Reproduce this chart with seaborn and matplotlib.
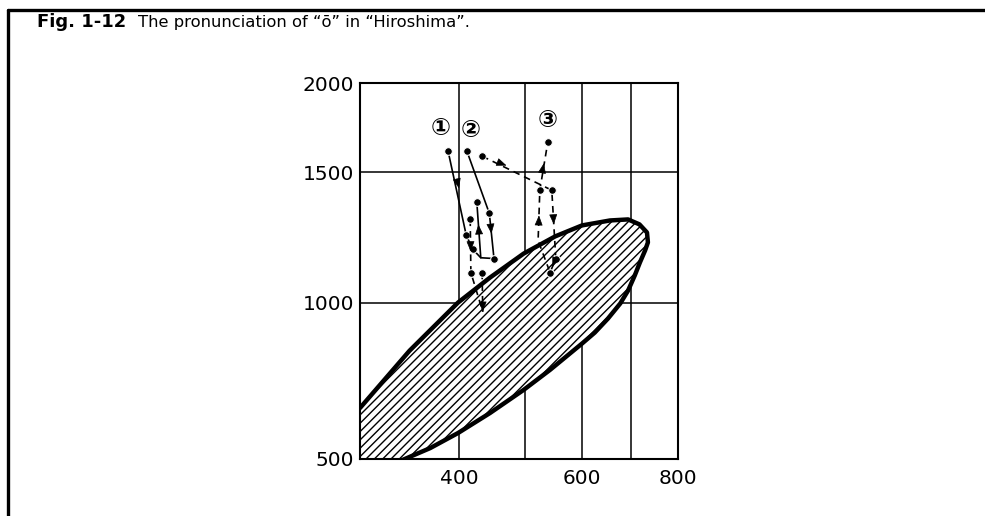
import numpy as np
import seaborn as sns
import matplotlib.pyplot as plt
from matplotlib.lines import Line2D

# formant values (Hz): x = F1, y = F2
f1_ticks = [400, 600, 800]
f1_grid = [400, 500, 600, 700]
f2_ticks = [500, 1000, 1500, 2000]
f2_grid = [1000, 1500]

# outline of the hatched /o/ region
ell_f1 = [300, 350, 399, 447, 498, 553, 600, 657, 694, 718, 734, 736, 730, 719,
          708, 694, 678, 653, 626, 600, 570, 544, 498, 447, 399, 371, 343]
ell_f2 = [663, 846, 1000, 1096, 1188, 1254, 1296, 1315, 1319, 1300, 1269, 1231,
          1200, 1154, 1104, 1046, 997, 949, 904, 869, 824, 785, 721, 647, 583,
          535, 497]

# trajectories
t1_f1 = [389, 411, 421, 433]
t1_f2 = [1618, 1258, 1204, 1172]
t2_f1 = [412, 446, 453, 433, 427]
t2_f2 = [1618, 1342, 1169, 1172, 1385]
t1b_f1 = [417, 418, 436]
t1b_f2 = [1319, 1115, 971]
t2b_f1 = [435, 436]
t2b_f2 = [1115, 971]
t3_f1 = [435, 547, 554, 544, 523, 526, 540]
t3_f2 = [1590, 1431, 1169, 1115, 1238, 1431, 1669]

labels = ["①", "②", "③"]
label_f1 = [381, 418, 540]
label_f2 = [1747, 1736, 1792]

# (track, dashed?, dot indices, arrows as (segment, fraction))
tracks = [
    (t1_f1, t1_f2, False, [0, 1, 2], [(0, 0.5)]),
    (t2_f1, t2_f2, False, [0, 1, 2, 4], [(1, 0.45), (3, 0.6)]),
    (t1b_f1, t1b_f2, True, [0, 1], [(0, 0.6)]),
    (t2b_f1, t2b_f2, True, [0], [(0, 1.0)]),
    (t3_f1, t3_f2, True, [0, 1, 2, 3, 5, 6],
     [(0, 0.33), (1, 0.5), (2, 0.6), (4, 0.5), (5, 0.5)]),
]

# the original axes are hand drawn: tick values sit at these offsets (px)
x_val = [300, 400, 500, 600, 700, 800]
x_pos = [0, 99, 165, 222, 271, 318]
y_val = [500, 1000, 1500, 2000]
y_pos = [0, 156, 286, 375]


def make_scale(vals, pos):
    vals = np.asarray(vals, float)
    pos = np.asarray(pos, float)

    def interp(v, a, b):
        v = np.asarray(v, float)
        out = np.interp(v, a, b)
        out = np.where(v < a[0], b[0] + (v - a[0]) * (b[1] - b[0]) / (a[1] - a[0]), out)
        out = np.where(v > a[-1], b[-1] + (v - a[-1]) * (b[-1] - b[-2]) / (a[-1] - a[-2]), out)
        return out

    return (lambda v: interp(v, vals, pos)), (lambda p: interp(p, pos, vals))


sns.set_style("white")
plt.rcParams["font.family"] = ["DejaVu Sans", "Noto Sans CJK JP"]
plt.rcParams["hatch.linewidth"] = 1.0

fig = plt.figure(figsize=(9.85, 5.16), dpi=100)
ax = fig.add_axes([360 / 985, 57 / 516, 318 / 985, 376 / 516])
ax.set_xscale("function", functions=make_scale(x_val, x_pos))
ax.set_yscale("function", functions=make_scale(y_val, y_pos))
ax.set_xlim(x_val[0], x_val[-1])
ax.set_ylim(y_val[0], y_val[-1])

# grid
for v in f1_grid:
    ax.axvline(v, color="black", lw=1.1, zorder=1)
for v in f2_grid:
    ax.axhline(v, color="black", lw=1.1, zorder=1)

# hatched region
ax.fill(ell_f1 + [x_val[0]], ell_f2 + [y_val[0]], facecolor="white",
        edgecolor="black", hatch="////", lw=0, zorder=2)
ax.plot(ell_f1, ell_f2, color="black", lw=3.2, solid_joinstyle="round",
        solid_capstyle="round", zorder=3)

for f1, f2, dashed, dots, arrows in tracks:
    sns.lineplot(x=f1, y=f2, sort=False, estimator=None, ax=ax, color="black",
                 lw=1.2, linestyle=(0, (4, 3)) if dashed else "-",
                 marker="o", markersize=5.5, markevery=dots, zorder=4)
    for seg, frac in arrows:
        x0, y0, x1, y1 = f1[seg], f2[seg], f1[seg + 1], f2[seg + 1]
        hx, hy = x0 + (x1 - x0) * frac, y0 + (y1 - y0) * frac
        tx, ty = x0 + (x1 - x0) * (frac - 0.1), y0 + (y1 - y0) * (frac - 0.1)
        ax.annotate("", xy=(hx, hy), xytext=(tx, ty), zorder=5,
                    arrowprops=dict(arrowstyle="-|>,head_length=0.7,head_width=0.28",
                                    color="black", lw=0.5, shrinkA=0, shrinkB=0,
                                    mutation_scale=9))

for lab, x, y in zip(labels, label_f1, label_f2):
    ax.text(x, y, lab, fontsize=17, ha="center", va="center", color="black",
            weight="bold", family=["DejaVu Sans", "Noto Sans CJK JP"], zorder=5)

ax.set_xticks(f1_ticks)
ax.set_xticklabels([str(v) for v in f1_ticks])
ax.set_xticks([], minor=True)
ax.set_yticks(f2_ticks)
ax.set_yticklabels([str(v) for v in f2_ticks])
ax.set_yticks([], minor=True)
ax.tick_params(axis="both", length=0, labelsize=14.5, colors="black")
ax.tick_params(axis="x", pad=7)
ax.tick_params(axis="y", pad=4)
for s in ax.spines.values():
    s.set_color("black")
    s.set_linewidth(1.5)
ax.set_xlabel("")
ax.set_ylabel("")
ax.grid(False)

# figure frame
fig.add_artist(Line2D([8 / 985, 1], [1 - 10 / 516, 1 - 10 / 516], color="black", lw=2.4))
fig.add_artist(Line2D([8 / 985, 8 / 985], [0, 1 - 10 / 516], color="black", lw=2.4))

# title
t = fig.text(37 / 985, 1 - 22 / 516, "Fig. 1-12", fontsize=13, weight="bold",
             va="center", color="black")
fig.canvas.draw()
bb = t.get_window_extent()
fig.text((bb.x1 + 12) / 985, 1 - 22 / 516,
         "The pronunciation of \u201c\u014d\u201d in \u201cHiroshima\u201d.",
         fontsize=11.8, va="center", color="black")

fig.savefig("out.png", dpi=100)
